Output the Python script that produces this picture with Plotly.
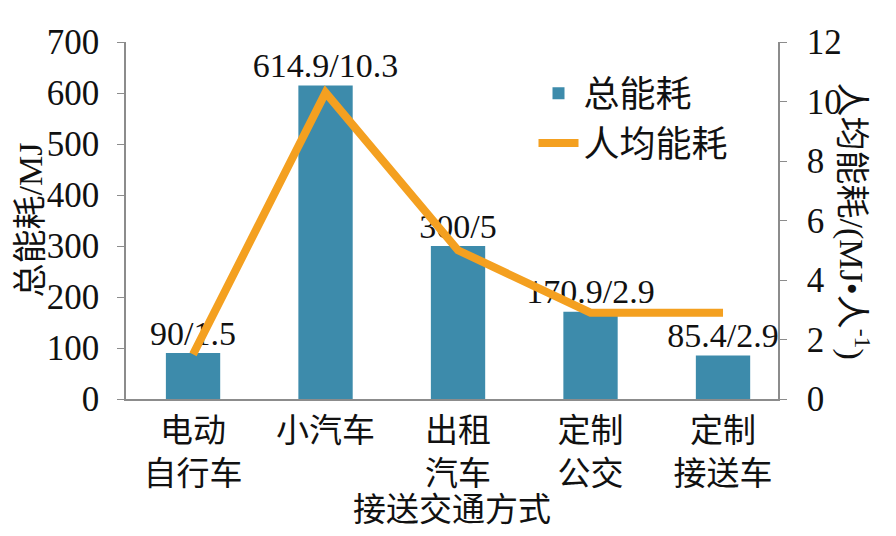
import plotly.graph_objects as go

categories = ["电动<br>自行车", "小汽车", "出租<br>汽车", "定制<br>公交", "定制<br>接送车"]
total_energy = [90, 614.9, 300, 170.9, 85.4]
per_capita = [1.5, 10.3, 5, 2.9, 2.9]
labels = [f"{t:g}/{p:g}" for t, p in zip(total_energy, per_capita)]

FONT = "Liberation Serif, 'Times New Roman', 'Noto Sans CJK SC', serif"
CJK = "'Noto Sans CJK SC', 'Liberation Serif', sans-serif"
BAR_COLOR = "#3d8bab"
LINE_COLOR = "#f4a020"
AXIS_COLOR = "#8c8c8c"
TXT = "#111111"

fig = go.Figure()
fig.add_trace(go.Bar(
    x=categories, y=total_energy, name="总能耗",
    marker=dict(color=BAR_COLOR, line=dict(width=0)),
    width=0.41,
))
fig.add_trace(go.Scatter(
    x=categories, y=per_capita, name="人均能耗", yaxis="y2",
    mode="lines", line=dict(color=LINE_COLOR, width=8),
))
fig.add_trace(go.Scatter(
    x=categories, y=total_energy, mode="text", text=labels,
    textposition="top center", showlegend=False, hoverinfo="skip",
    textfont=dict(family=FONT, size=34, color=TXT), cliponaxis=False,
))

# page has an 8px body margin; figure sized to fit the 896x536 window
fig.update_layout(
    width=880, height=520,
    margin=dict(l=118, r=110, t=34, b=129),
    plot_bgcolor="white", paper_bgcolor="white",
    font=dict(family=FONT, size=34, color=TXT),
    showlegend=True,
    legend=dict(x=0.625, y=0.94, xanchor="left", yanchor="top",
                font=dict(family=CJK, size=36, color=TXT),
                bgcolor="rgba(0,0,0,0)", tracegroupgap=0, itemwidth=40),
    xaxis=dict(
        range=[-0.506, 4.415], automargin=False,
        showline=True, linecolor=AXIS_COLOR, linewidth=1.5,
        ticks="", showgrid=False, ticklabelstandoff=2,
        tickfont=dict(family=CJK, size=33, color=TXT),
    ),
    yaxis=dict(
        range=[0, 700], dtick=100, showgrid=False, zeroline=False, automargin=False,
        showline=True, linecolor=AXIS_COLOR, linewidth=1.5,
        ticks="outside", ticklen=7, tickcolor=AXIS_COLOR, ticklabelstandoff=11,
        tickfont=dict(family=FONT, size=35, color=TXT),
    ),
    yaxis2=dict(
        range=[0, 12], dtick=2, overlaying="y", side="right", showgrid=False, zeroline=False,
        automargin=False,
        showline=True, linecolor=AXIS_COLOR, linewidth=1.5,
        ticks="outside", ticklen=7, tickcolor=AXIS_COLOR, ticklabelstandoff=13,
        tickfont=dict(family=FONT, size=35, color=TXT),
    ),
)

fig.add_annotation(
    text="接送交通方式", xref="paper", yref="paper", x=0.5, y=0,
    yshift=-108, showarrow=False, xanchor="center", yanchor="middle",
    font=dict(family=CJK, size=33, color=TXT),
)
fig.add_annotation(
    text="总能耗/MJ", xref="paper", yref="paper", x=0, y=0.5,
    xshift=-96, textangle=-90, showarrow=False, xanchor="center", yanchor="middle",
    font=dict(family=FONT, size=34, color=TXT),
)
fig.add_annotation(
    text="人均能耗/(MJ•人<sup>-1</sup>)", xref="paper", yref="paper", x=1, y=0.5,
    xshift=76, textangle=90, showarrow=False, xanchor="center", yanchor="middle",
    font=dict(family=FONT, size=34, color=TXT),
)

fig.write_html("out.html")
